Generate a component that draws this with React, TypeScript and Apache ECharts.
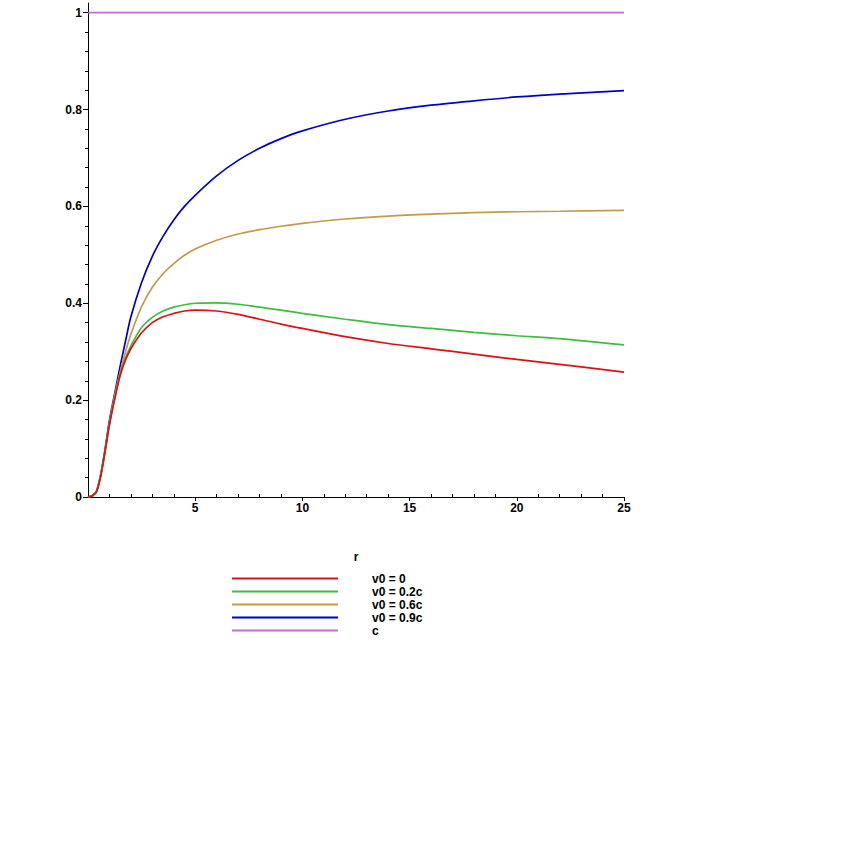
import { useEffect, useRef } from 'react'
import * as echarts from 'echarts'

// r values shared by all curves
const rValues = [0, 0.2, 0.4, 0.6, 0.8, 1, 1.25, 1.5, 1.75, 2, 2.5, 3, 3.5, 4, 4.5, 5, 6, 7, 8, 9, 10, 12, 14, 16, 18, 20, 22, 25]

const v0Zero = [0, 0.002, 0.011, 0.045, 0.095, 0.149, 0.203, 0.251, 0.283, 0.306, 0.339, 0.36, 0.372, 0.379, 0.384, 0.386, 0.384, 0.377, 0.367, 0.357, 0.348, 0.331, 0.317, 0.306, 0.295, 0.284, 0.274, 0.258]
const v0Point2 = [0, 0.002, 0.011, 0.045, 0.095, 0.15, 0.205, 0.254, 0.287, 0.312, 0.35, 0.371, 0.384, 0.392, 0.397, 0.4, 0.401, 0.398, 0.392, 0.386, 0.379, 0.367, 0.356, 0.348, 0.34, 0.333, 0.327, 0.314]
const v0Point6 = [0, 0.003, 0.012, 0.046, 0.097, 0.153, 0.21, 0.258, 0.3, 0.336, 0.393, 0.433, 0.461, 0.482, 0.499, 0.512, 0.53, 0.543, 0.552, 0.559, 0.565, 0.574, 0.58, 0.584, 0.587, 0.589, 0.59, 0.592]
const v0Point9 = [0, 0.003, 0.013, 0.048, 0.1, 0.158, 0.215, 0.27, 0.322, 0.372, 0.443, 0.497, 0.538, 0.572, 0.6, 0.623, 0.663, 0.695, 0.72, 0.74, 0.756, 0.78, 0.797, 0.809, 0.818, 0.826, 0.832, 0.839]
const cLimitR = [0, 25]
const cLimit = [1, 1]

const seriesNames = ['v0 = 0', 'v0 = 0.2c', 'v0 = 0.6c', 'v0 = 0.9c', 'c']
const seriesColors = ['#dd1111', '#3cbf3c', '#c49a48', '#0000c8', '#c070c0']

// axis ticks
const xMajorTicks = [5, 10, 15, 20, 25]
const xMinorTicks = [1, 2, 3, 4, 6, 7, 8, 9, 11, 12, 13, 14, 16, 17, 18, 19, 21, 22, 23, 24]
const yMajorTicks = [0, 0.2, 0.4, 0.6, 0.8, 1]
const yMinorTicks = [0.04, 0.08, 0.12, 0.16, 0.24, 0.28, 0.32, 0.36, 0.44, 0.48, 0.52, 0.56, 0.64, 0.68, 0.72, 0.76, 0.84, 0.88, 0.92, 0.96]

const font = '"Liberation Sans", Arial, sans-serif'

export default function App() {
  const chartRef = useRef<HTMLDivElement>(null)

  useEffect(() => {
    if (!chartRef.current) return
    const chart = echarts.init(chartRef.current, null, { renderer: 'svg' })

    const pairs = (xs: number[], ys: number[]) => xs.map((x, i) => [x, ys[i]])
    const curves = [
      pairs(rValues, v0Zero),
      pairs(rValues, v0Point2),
      pairs(rValues, v0Point6),
      pairs(rValues, v0Point9),
      pairs(cLimitR, cLimit)
    ]
    const zOrder = [6, 5, 4, 3, 2]

    const labelStyle = { fontFamily: font, fontWeight: 'bold' as const, fontSize: 12, color: '#000' }

    const option: echarts.EChartsOption = {
      animation: false,
      backgroundColor: '#fff',
      grid: { left: 88, top: 3, width: 536, height: 494 },
      legend: {
        orient: 'vertical',
        left: 232,
        top: 572,
        padding: 0,
        icon: 'rect',
        itemWidth: 106,
        itemHeight: 2,
        itemGap: 0,
        data: seriesNames,
        textStyle: { ...labelStyle, lineHeight: 13, padding: [0, 0, 0, 29] }
      },
      xAxis: [
        {
          type: 'value',
          min: 0,
          max: 25,
          name: 'r',
          nameLocation: 'middle',
          nameGap: 54,
          nameTextStyle: labelStyle,
          axisLine: { show: true, onZero: false, lineStyle: { color: '#000', width: 1 } },
          axisTick: { show: true, customValues: xMajorTicks, length: 4, lineStyle: { color: '#000' } },
          axisLabel: { customValues: xMajorTicks, margin: 5, ...labelStyle },
          splitLine: { show: false }
        },
        {
          type: 'value',
          min: 0,
          max: 25,
          position: 'bottom',
          axisLine: { show: false },
          axisTick: { show: true, inside: true, customValues: xMinorTicks, length: 3, lineStyle: { color: '#000' } },
          axisLabel: { show: false },
          splitLine: { show: false }
        }
      ],
      yAxis: [
        {
          type: 'value',
          min: 0,
          max: 1.02,
          axisLine: { show: true, onZero: false, lineStyle: { color: '#000', width: 1 } },
          axisTick: { show: true, customValues: yMajorTicks, length: 5, lineStyle: { color: '#000' } },
          axisLabel: {
            customValues: yMajorTicks,
            margin: 6,
            ...labelStyle,
            formatter: (v: number) => String(Math.round(v * 10) / 10)
          },
          splitLine: { show: false }
        },
        {
          type: 'value',
          min: 0,
          max: 1.02,
          position: 'left',
          axisLine: { show: false },
          axisTick: { show: true, customValues: yMinorTicks, length: 3, lineStyle: { color: '#000' } },
          axisLabel: { show: false },
          splitLine: { show: false }
        }
      ],
      series: curves.map((data, i) => ({
        name: seriesNames[i],
        type: 'line' as const,
        data,
        xAxisIndex: 0,
        yAxisIndex: 0,
        z: zOrder[i],
        smooth: i < 4 ? 0.3 : false,
        showSymbol: false,
        symbol: 'none',
        color: seriesColors[i],
        lineStyle: { color: seriesColors[i], width: 1.7 }
      }))
    }

    chart.setOption(option)
    return () => {
      chart.dispose()
    }
  }, [])

  return (
    <div
      ref={chartRef}
      style={{ position: 'fixed', left: 0, top: 0, width: 861, height: 861 }}
    />
  )
}
